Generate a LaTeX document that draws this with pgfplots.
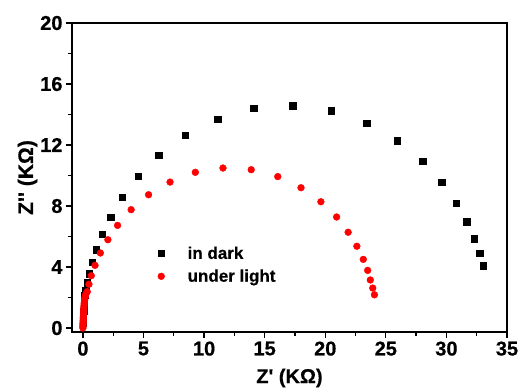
\documentclass[border=0pt]{standalone}
\usepackage{pgfplots}
\pgfplotsset{compat=1.18}
\usepackage{fontspec}
\setmainfont{Liberation Sans}[BoldFeatures={FakeBold=0.6}]
\begin{document}
\begin{tikzpicture}
\path[use as bounding box] (-72pt,-58pt) rectangle (453pt,332pt);
\begin{axis}[
  anchor=south west, at={(0pt,0pt)},
  scale only axis, width=435pt, height=309pt,
  xmin=-0.9, xmax=35, ymin=-0.26, ymax=20,
  xtick={0,5,...,35}, minor xtick={2.5,7.5,...,32.5},
  ytick={0,4,...,20}, minor ytick={2,6,...,18},
  xtick pos=bottom, ytick pos=left, tick align=outside,
  major tick length=6pt, minor tick length=4pt,
  every tick/.style={line width=1.3pt, black},
  axis line style={line width=1.6pt},
  /pgf/number format/assume math mode=true,
  ticklabel style={font=\bfseries\fontsize{20}{20}\selectfont},
  xlabel={Z\textquotesingle\ (KΩ)}, ylabel={Z\textquotesingle\textquotesingle\ (KΩ)},
  xlabel style={font=\bfseries\fontsize{20}{20}\selectfont, yshift=-6pt},
  ylabel style={font=\bfseries\fontsize{21}{21}\selectfont, yshift=-4pt},
  legend style={draw=none, fill=none, at={(rel axis cs:0.19,0.29)}, anchor=north west,
    font=\bfseries\fontsize{17}{19}\selectfont, row sep=5pt, nodes={inner xsep=6pt}},
  legend cell align=left,
]
\addplot[only marks, mark=square*, mark size=3.2pt, black] coordinates {
(0.02,0.3)(0.04,0.7)(0.06,1.1)(0.09,1.5)(0.12,1.8)(0.16,2.15)
(0.22,2.49)(0.36,2.97)(0.53,3.56)(0.75,4.31)(1.11,5.13)(1.58,6.16)
(2.28,7.28)(3.22,8.57)(4.56,9.95)(6.25,11.32)(8.44,12.64)(11.11,13.70)
(14.08,14.41)(17.31,14.59)(20.5,14.25)(23.42,13.44)(25.94,12.28)(28.03,10.95)
(29.61,9.55)(30.81,8.20)(31.69,6.97)(32.31,5.86)(32.75,4.90)(33.06,4.09)
};
\addlegendentry{\hspace{17pt}in dark}
\addplot[only marks, mark=*, mark size=3.4pt, red, mark options={draw=red, fill=red}] coordinates {
(0.0,0.0)(0.0,0.1)(0.01,0.2)(0.01,0.3)(0.02,0.4)(0.02,0.5)(0.03,0.6)(0.03,0.7)
(0.04,0.8)(0.05,0.9)(0.05,1.0)(0.06,1.1)(0.07,1.2)(0.08,1.3)(0.09,1.4)(0.1,1.5)
(0.11,1.6)(0.12,1.7)(0.14,1.8)(0.15,1.9)(0.17,2.0)(0.2,2.1)(0.26,2.25)
(0.36,2.38)(0.5,2.87)(0.69,3.43)(1.0,4.11)(1.44,4.92)(2.06,5.79)(2.86,6.73)
(3.98,7.76)(5.42,8.74)(7.19,9.57)(9.28,10.21)(11.56,10.49)(13.89,10.38)
(16.08,9.93)(18.0,9.20)(19.64,8.28)(20.94,7.28)(21.89,6.28)(22.61,5.36)
(23.14,4.50)(23.5,3.78)(23.72,3.15)(23.92,2.62)(24.06,2.18)
};
\addlegendentry{\hspace{17pt}under light}
\end{axis}
\end{tikzpicture}
\end{document}
